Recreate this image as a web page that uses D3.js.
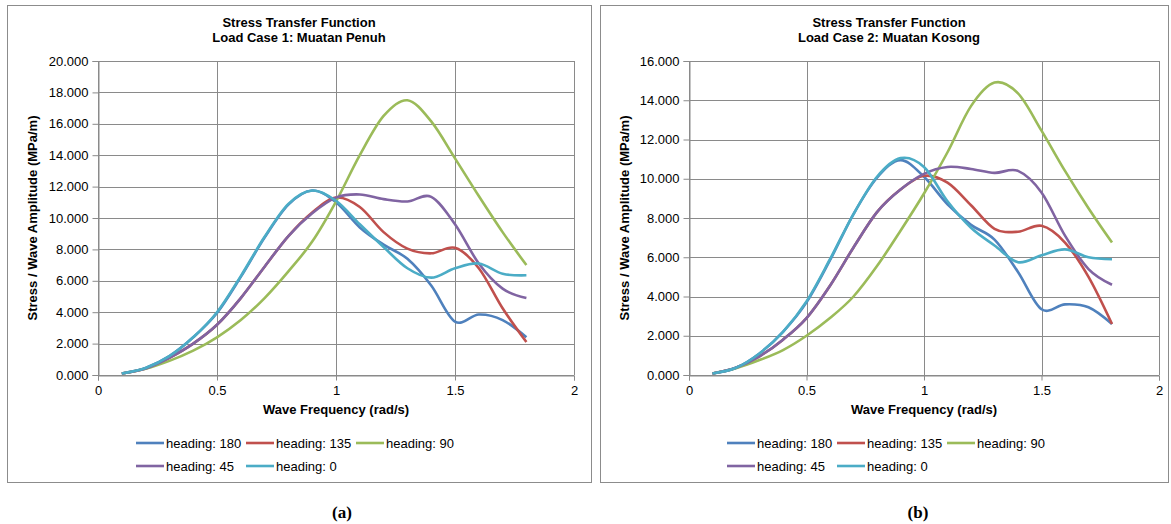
<!DOCTYPE html>
<html>
<head>
<meta charset="utf-8">
<script src="https://cdn.jsdelivr.net/npm/d3@7"></script>
<style>
  body { margin: 0; background: #fff; }
  svg text { font-family: "Liberation Sans", Arial, sans-serif; fill: #000; }
  .caption { font-family: "Liberation Serif", "Times New Roman", serif !important; font-weight: bold; }
</style>
</head>
<body>
<div id="chart"></div>
<script>
// wave frequency (rad/s)
const freq = [0.1, 0.2, 0.3, 0.4, 0.5, 0.6, 0.7, 0.8, 0.9, 1.0, 1.1, 1.2, 1.3, 1.4, 1.5, 1.6, 1.7, 1.8];

const headings = ["heading: 180", "heading: 135", "heading: 90", "heading: 45", "heading: 0"];
const colors = ["#4F81BD", "#C0504D", "#9BBB59", "#8064A2", "#4BACC6"];

const xTicks = [0, 0.5, 1, 1.5, 2];
const xTickLabels = ["0", "0.5", "1", "1.5", "2"];

// Load case 1: Muatan Penuh
const titleA = ["Stress Transfer Function", "Load Case 1: Muatan Penuh"];
const yTicksA = [0, 2, 4, 6, 8, 10, 12, 14, 16, 18, 20];
const h180A = [0.1, 0.45, 1.2, 2.4, 3.95, 6.25, 8.75, 10.85, 11.75, 11.0, 9.4, 8.3, 7.4, 5.7, 3.4, 3.85, 3.5, 2.4];
const h135A = [0.1, 0.42, 1.1, 2.0, 3.2, 4.9, 6.9, 8.85, 10.35, 11.3, 10.7, 9.1, 8.05, 7.75, 8.1, 6.8, 4.25, 2.1];
const h90A  = [0.1, 0.4, 0.9, 1.55, 2.4, 3.5, 4.9, 6.6, 8.5, 11.05, 14.0, 16.5, 17.5, 16.15, 13.8, 11.4, 9.1, 7.0];
const h45A  = [0.1, 0.42, 1.1, 2.0, 3.2, 4.9, 6.9, 8.85, 10.3, 11.3, 11.5, 11.2, 11.05, 11.35, 9.6, 7.1, 5.5, 4.9];
const h0A   = [0.1, 0.45, 1.2, 2.4, 4.0, 6.3, 8.8, 10.9, 11.75, 11.1, 9.6, 8.15, 6.8, 6.2, 6.8, 7.1, 6.45, 6.35];

// Load case 2: Muatan Kosong
const titleB = ["Stress Transfer Function", "Load Case 2: Muatan Kosong"];
const yTicksB = [0, 2, 4, 6, 8, 10, 12, 14, 16];
const h180B = [0.08, 0.37, 1.1, 2.2, 3.7, 5.85, 8.2, 10.05, 10.95, 10.1, 8.7, 7.65, 6.9, 5.25, 3.35, 3.6, 3.45, 2.6];
const h135B = [0.08, 0.37, 0.95, 1.8, 2.9, 4.55, 6.5, 8.3, 9.45, 10.15, 9.8, 8.65, 7.45, 7.3, 7.6, 6.75, 5.0, 2.6];
const h90B  = [0.08, 0.35, 0.76, 1.27, 2.0, 2.9, 4.0, 5.55, 7.35, 9.25, 11.35, 13.7, 14.9, 14.35, 12.45, 10.4, 8.5, 6.75];
const h45B  = [0.08, 0.37, 0.95, 1.8, 2.9, 4.55, 6.5, 8.3, 9.45, 10.25, 10.6, 10.5, 10.3, 10.4, 9.3, 7.1, 5.4, 4.6];
const h0B   = [0.08, 0.37, 1.1, 2.2, 3.75, 5.9, 8.2, 10.1, 11.05, 10.6, 8.85, 7.5, 6.6, 5.75, 6.1, 6.4, 6.0, 5.9];

const svg = d3.select("#chart").append("svg")
    .attr("width", 1171)
    .attr("height", 524);

function drawChart(opt) {
    const g = svg.append("g");

    // outer chart border
    g.append("rect")
        .attr("x", opt.box[0] + 0.5).attr("y", opt.box[1] + 0.5)
        .attr("width", opt.box[2]).attr("height", opt.box[3])
        .attr("fill", "#fff").attr("stroke", "#8c8c8c");

    const x = d3.scaleLinear().domain([0, 2]).range([opt.left, opt.right]);
    const y = d3.scaleLinear().domain([0, d3.max(opt.yTicks)]).range([opt.bottom, opt.top]);

    // gridlines
    g.append("g").selectAll("line.hg")
        .data(opt.yTicks).enter().append("line")
        .attr("x1", opt.left).attr("x2", opt.right)
        .attr("y1", d => Math.round(y(d)) + 0.5).attr("y2", d => Math.round(y(d)) + 0.5)
        .attr("stroke", "#8a8a8a").attr("stroke-width", 1);
    g.append("g").selectAll("line.vg")
        .data(xTicks).enter().append("line")
        .attr("x1", d => Math.round(x(d)) + 0.5).attr("x2", d => Math.round(x(d)) + 0.5)
        .attr("y1", opt.top).attr("y2", opt.bottom)
        .attr("stroke", "#8a8a8a").attr("stroke-width", 1);

    // axes
    const yAxis = d3.axisLeft(y).tickValues(opt.yTicks).tickFormat(d3.format(".3f")).tickSizeOuter(0).tickSize(6).tickPadding(4);
    const xAxis = d3.axisBottom(x).tickValues(xTicks).tickFormat((d, i) => xTickLabels[i]).tickSizeOuter(0).tickSize(5).tickPadding(5);

    const ya = g.append("g").attr("transform", `translate(${Math.round(opt.left) + 0.5},0)`).call(yAxis);
    const xa = g.append("g").attr("transform", `translate(0,${Math.round(opt.bottom) + 0.5})`).call(xAxis);
    [ya, xa].forEach(a => {
        a.select(".domain").attr("stroke", "#8a8a8a");
        a.selectAll(".tick line").attr("stroke", "#8a8a8a");
        a.selectAll(".tick text").attr("font-size", "13px").attr("fill", "#000")
            .attr("font-family", "Liberation Sans, Arial, sans-serif");
    });

    // series lines, smoothed like the spreadsheet
    const line = d3.line()
        .x((d, i) => x(freq[i]))
        .y(d => y(d))
        .curve(d3.curveCardinal.tension(0));

    opt.series.forEach((s, i) => {
        g.append("path")
            .datum(s)
            .attr("fill", "none")
            .attr("stroke", colors[i])
            .attr("stroke-width", 2.6)
            .attr("stroke-linejoin", "round")
            .attr("d", line);
    });

    // titles
    g.append("text")
        .attr("x", opt.titleX).attr("y", 27)
        .attr("text-anchor", "middle").attr("font-size", "13px").attr("font-weight", "bold")
        .text(opt.title[0]);
    g.append("text")
        .attr("x", opt.titleX).attr("y", 42)
        .attr("text-anchor", "middle").attr("font-size", "13px").attr("font-weight", "bold")
        .text(opt.title[1]);

    g.append("text")
        .attr("transform", `translate(${opt.yTitleX},${(opt.top + opt.bottom) / 2}) rotate(-90)`)
        .attr("text-anchor", "middle").attr("font-size", "13px").attr("font-weight", "bold")
        .text("Stress / Wave Amplitude (MPa/m)");

    g.append("text")
        .attr("x", (opt.left + opt.right) / 2).attr("y", 414)
        .attr("text-anchor", "middle").attr("font-size", "13px").attr("font-weight", "bold")
        .text("Wave Frequency (rad/s)");

    // legend, 3 per row
    headings.forEach((h, i) => {
        const lx = opt.legendX + (i % 3) * 110;
        const ly = 443 + Math.floor(i / 3) * 23;
        g.append("line")
            .attr("x1", lx).attr("x2", lx + 28)
            .attr("y1", ly).attr("y2", ly)
            .attr("stroke", colors[i]).attr("stroke-width", 2.6);
        g.append("text")
            .attr("x", lx + 30).attr("y", ly + 4.5)
            .attr("font-size", "13px")
            .text(h);
    });

    svg.append("text")
        .attr("class", "caption")
        .attr("x", opt.capX).attr("y", 518)
        .attr("text-anchor", "middle").attr("font-size", "17px")
        .text(opt.caption);
}

drawChart({
    box: [7, 5, 584, 477], left: 98, right: 574, top: 61, bottom: 375,
    yTicks: yTicksA, title: titleA, titleX: 299, yTitleX: 37, legendX: 136,
    series: [h180A, h135A, h90A, h45A, h0A], capX: 342, caption: "(a)"
});

drawChart({
    box: [600, 5, 568, 477], left: 689, right: 1159, top: 61, bottom: 375,
    yTicks: yTicksB, title: titleB, titleX: 889, yTitleX: 629, legendX: 727,
    series: [h180B, h135B, h90B, h45B, h0B], capX: 918, caption: "(b)"
});
</script>
</body>
</html>
